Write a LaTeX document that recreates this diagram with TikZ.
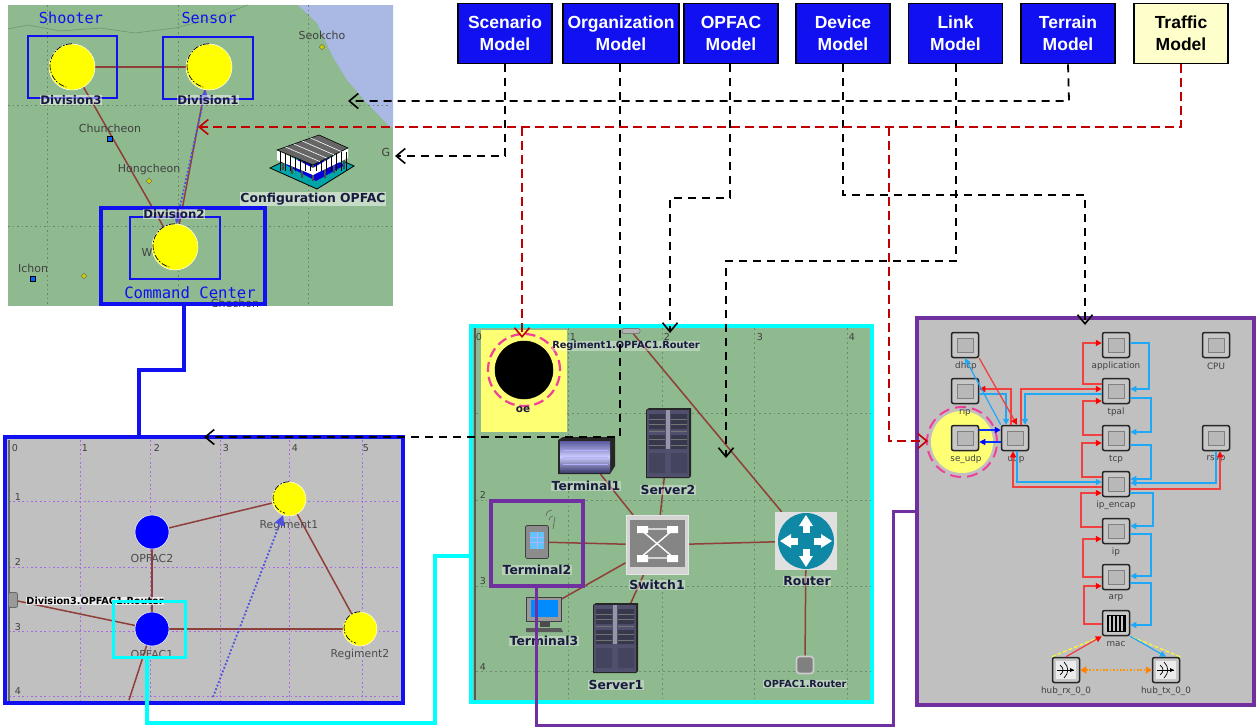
\documentclass[tikz,border=0pt]{standalone}
\usepackage{fontspec}
\setmainfont{Liberation Sans}
\newfontfamily\djf{DejaVu Sans}
\newfontfamily\djmf{DejaVu Sans Mono}
\usetikzlibrary{arrows.meta,fit,calc,shapes.geometric,shadings}
\selectcolormodel{rgb}
\pgfdeclarelayer{bg}\pgfsetlayers{bg,main}
\definecolor{mapgreen}{HTML}{8FB98F}
\definecolor{sea}{HTML}{AAB8E4}
\definecolor{linkbrown}{HTML}{8E3F3A}
\definecolor{panelgray}{HTML}{C0C0C0}
\definecolor{pblue}{HTML}{1010F0}
\definecolor{pviolet}{HTML}{7030A0}
\definecolor{dred}{HTML}{C00000}
\definecolor{tri}{HTML}{5050E0}
\definecolor{ared}{HTML}{F04040}
\definecolor{ablue}{HTML}{20A8F8}
\definecolor{hotpink}{HTML}{F0409A}
\definecolor{srv}{HTML}{50506E}
\definecolor{pyel}{HTML}{FFFF00}
\definecolor{pcy}{HTML}{00FFFF}
\definecolor{rteal}{HTML}{0F88A5}
\definecolor{gridv}{HTML}{A868E8}
\definecolor{navytext}{HTML}{1A1A40}
\tikzset{
 x=1pt,y=-1pt,
 model/.style={draw=black,line width=1.7pt,fill=#1,minimum width=94pt,minimum height=60pt,inner sep=0pt,align=center,font=\fontsize{17.5}{22}\selectfont\bfseries},
 dsh/.style={draw=black,line width=1.8pt,dash pattern=on 8pt off 6pt,-{Straight Barb[length=9pt,width=15pt,line width=1.6pt]}},
 rdsh/.style={draw=dred,line width=1.8pt,dash pattern=on 9pt off 5pt,-{Straight Barb[length=9pt,width=15pt,line width=1.6pt]}},
 link/.style={draw=linkbrown,line width=1.5pt},
 dot/.style={draw=tri,line width=1.8pt,dash pattern=on 1.8pt off 2pt},
 net/.style={circle,inner sep=0pt,minimum size=#1,draw=white,line width=.5pt},
 hlab/.style={font=\djf\fontsize{11.8}{13}\selectfont\bfseries,inner sep=.6pt,fill=white,fill opacity=.5,text opacity=1,text=navytext},
 mlab/.style={font=\djf\fontsize{11}{12}\selectfont,inner sep=0pt,text=black!75},
 blab/.style={font=\djf\fontsize{12.4}{13}\selectfont\bfseries,inner sep=.6pt,fill=white,fill opacity=.35,text opacity=1,text=navytext},
 nlab/.style={font=\djf\fontsize{10.8}{12}\selectfont,inner sep=0pt,text=black!70},
 num/.style={font=\djf\fontsize{9.5}{10}\selectfont,inner sep=0pt,text=black!75},
 mono/.style={font=\djmf\fontsize{15.2}{16}\selectfont,inner sep=0pt,text=pblue},
 pan/.style={inner sep=0pt,line width=#1},
 thinbox/.style={draw=pblue,line width=1.4pt,inner sep=0pt},
 modl/.style={draw=black!85,line width=1.5pt,fill=black!22,rounded corners=2pt,minimum width=27pt,minimum height=25pt,inner sep=0pt},
 modt/.style={font=\djf\fontsize{8.8}{10}\selectfont,inner sep=0pt,text=black!75},
 ra/.style={draw=ared,line width=1.3pt,-{Triangle[length=6pt,width=6pt,fill=red,color=red]}},
 ba/.style={draw=ablue,line width=1.2pt,-{Triangle[length=6pt,width=6pt]}},
 nba/.style={draw=blue!70!ablue,line width=1.2pt,-{Triangle[length=6pt,width=6pt,color=blue]}},
 icon/.style={inner sep=0pt},
}
\newcommand{\ringarc}[2]{\draw[black,line width=.7pt,dash pattern=on 6pt off 1.5pt on 1.5pt off 2pt] (#1.90) arc[start angle=90,end angle=255,radius=#2pt];}
\newcommand{\mpanel}[7]{\node[pan=#6,#7,fit={(#2,#3)(#4,#5)}] (#1) {};}
\newcommand{\mmod}[5]{\node[modl] (#1) at (#2,#3) {};
 \draw[black!50,fill=black!28,line width=.8pt] ($(#1.center)+(-8,-7)$) rectangle ($(#1.center)+(8,7)$);
 \node[modt] (#1-t) at ($(#1.center)+(#5,21)$) {#4};}
\newcommand{\larc}[6]{\draw[#6] (#1.west |- 0,#3) -- (#4,#3) -- (#4,#5) -- (#2.west |- 0,#5);}
\newcommand{\rarc}[6]{\draw[#6] (#1.east |- 0,#3) -- (#4,#3) -- (#4,#5) -- (#2.east |- 0,#5);}
\newcommand{\srvdetail}[1]{\begin{scope}[shift={(#1)}]
 \fill[black!85] (-22,-33) -- (-19,-35) -- (23,-35) -- (23,33) -- (21,35) -- (-22,35) -- cycle;
 \fill[srv] (-21,-33) rectangle (21,34);
 \fill[black!30!srv] (-19,-29) rectangle (-3,-14) (3,-29) rectangle (19,-14);
 \fill[black!30!srv] (-19,-8) rectangle (-3,6) (3,-8) rectangle (19,6);
 \fill[black!15!srv] (-19,10) rectangle (-3,30) (3,10) rectangle (19,30);
 \fill[srv!60!white] (-2,-33) rectangle (2,6);
 \foreach \yy in {-24,-19,-12,-4,2}{\draw[black!55,line width=.5pt] (-19,\yy)--(-3,\yy) (3,\yy)--(19,\yy);}
\end{scope}}
\begin{document}
\begin{tikzpicture}
\useasboundingbox (0,0) rectangle (1256,728);
\begin{pgfonlayer}{bg}
\fill[white] (0,0) rectangle (1256,728);
% map panel
\mpanel{map}{8}{5}{393}{306}{0pt}{fill=mapgreen}
\fill[sea] (298,5) -- (317,23) -- (333,57) -- (347,80) -- (367,103) -- (390,127) -- (393,127) -- (393,5) -- cycle;
\draw[black!28!mapgreen,line width=.7pt,dash pattern=on 1.5pt off 3pt] (47,5)--(47,306) (178,5)--(178,306) (308,5)--(308,306) (8,105)--(390,105) (8,226)--(393,226);
\draw[black!20!mapgreen,line width=.6pt] (8,29) -- (28,25) -- (60,31) -- (100,28) -- (135,33) -- (175,28) -- (215,18) -- (248,5);
% left panel
\mpanel{leftp}{5}{437}{403}{703}{4pt}{draw=pblue,fill=panelgray}
\draw[gridv,line width=1pt,dash pattern=on 1.8pt off 2.6pt]
 (80,440)--(80,701) (150,440)--(150,701) (220,440)--(220,701) (289,440)--(289,701) (362,440)--(362,701)
 (9,501)--(400,501) (9,567)--(400,567) (9,631)--(400,631) (9,696)--(400,696);
\fill[black!60] (7.5,440) rectangle (10,701);
% middle panel
\mpanel{midp}{471}{326}{872}{702}{3.5pt}{draw=pcy,fill=mapgreen}
\draw[black!25!mapgreen,line width=.7pt,dash pattern=on 1.8pt off 3pt]
 (568,328)--(568,700) (662,328)--(662,700) (754,328)--(754,700) (847,328)--(847,700)
 (476,413)--(870,413) (476,500)--(870,500) (476,586)--(870,586) (476,671)--(870,671);
\fill[black!65] (474,328) rectangle (475.5,700);
\fill[pyel!55!white] (481,330) rectangle (567,432);
% right panel
\mpanel{rightp}{917}{318}{1254}{705}{4.5pt}{draw=pviolet,fill=panelgray}
\end{pgfonlayer}

% ---- map contents (clipped to the map)
\node[mlab] (seokcho) at (322,35) {Seokcho};
\node[mlab] (chuncheon) at (110,128) {Chuncheon};
\node[mlab] (hongcheon) at (149,169) {Hongcheon};
\node[mlab] (ichon) at (33,268) {Ichon};
\node[mlab] (wlab) at (147,252) {W};
\node[mlab] (glab) at (386,152) {G};
\begin{scope}
\clip (8,5) rectangle (393,306);
\node[mlab] (chechon) at (235,303) {Chechon};
\end{scope}
\node[diamond,fill=pyel!80!black,draw=black!60,inner sep=0pt,minimum size=6pt,line width=.4pt] (dseok) at (322,47) {};
\node[diamond,fill=pyel!80!black,draw=black!60,inner sep=0pt,minimum size=6pt,line width=.4pt] (dhong) at (149,181) {};
\node[diamond,fill=pyel!80!black,draw=black!60,inner sep=0pt,minimum size=6pt,line width=.4pt] (dwest) at (84,276) {};
\node[rectangle,fill=blue!60!pcy,draw=black,inner sep=0pt,minimum size=5pt,line width=1pt] (schun) at (110,139) {};
\node[rectangle,fill=blue!60!pcy,draw=black,inner sep=0pt,minimum size=5pt,line width=1pt] (sich) at (33,279) {};

\node[net=46pt,fill=pyel] (div3) at (72,67) {}; \ringarc{div3}{22}
\node[net=46pt,fill=pyel] (div1) at (209,67) {}; \ringarc{div1}{22}
\node[net=46pt,fill=pyel] (div2) at (175,247) {}; \ringarc{div2}{22}
\begin{pgfonlayer}{bg}
\draw[link] (div3) -- (div1);
\draw[link] (div3) -- (div2);
\draw[link] (div1) -- (div2);
\end{pgfonlayer}
\draw[dot,{Triangle[length=11pt,width=10pt,color=tri]}-{Triangle[length=11pt,width=10pt,color=tri]}] (div2.87) -- (div1.262);
\node[thinbox,fit={(28,36)(117,98)}] (sh) {};
\node[thinbox,fit={(163,37)(253,99)}] (se) {};
\node[thinbox,fit={(130,217)(220,279)}] (cc) {};
\node[draw=pblue,line width=3.4pt,inner sep=0pt,fit={(101,208)(265,304)}] (cmd) {};
\node[mono] (tsh) at (71,18) {Shooter};
\node[mono] (tse) at (209,18) {Sensor};
\node[mono,font=\djmf\fontsize{15.6}{16}\selectfont] (tcc) at (190,293) {Command Center};
\node[hlab] (ldiv3) at (71,100) {Division3};
\node[hlab] (ldiv1) at (208,100) {Division1};
\node[hlab] (ldiv2) at (174,214) {Division2};
\node[hlab,font=\djf\fontsize{12.4}{13}\selectfont\bfseries] (lcfg) at (313,199) {Configuration OPFAC};
% building icon
\node[icon,minimum width=84pt,minimum height=54pt] (bldg) at (312,162) {};
\draw[black,fill=teal!70!pcy,line width=.8pt] (270,168) -- (313,147) -- (354,166) -- (317,189) -- cycle;
\fill[blue!85!black] (286,165) -- (315,152) -- (345,165) -- (316,181) -- cycle;
\foreach \xx/\yy in {283/170,292/174,302/178,313/181,325/178,334/173,344/169}{\draw[black!70,line width=2pt] (\xx,157) -- (\xx,\yy);}
\fill[white] (277,150) -- (313,168) -- (348,148) -- (348,158) -- (313,175) -- (277,160) -- cycle;
\foreach \xx in {280,285,290,295,300,305,310,316,321,326,331,336,341,346}{\draw[black,line width=.9pt] (\xx,152) -- (\xx,171);}
\draw[black,fill=black!60,line width=.6pt] (277,150) -- (319,135) -- (348,148) -- (313,165) -- cycle;
\foreach \pp in {.2,.4,.6,.8}{\draw[white,line width=.6pt] ($(277,150)!\pp!(319,135)$) -- ($(313,165)!\pp!(348,148)$);}

% ---- left panel contents
\foreach \xx/\tt in {15/0,85/1,157/2,226/3,295/4,366/5}{\node[num] (lc\tt) at (\xx,448) {\tt};}
\foreach \yy/\tt in {497/1,562/2,627/3,691/4}{\node[num] (lr\tt) at (18,\yy) {\tt};}
\node[net=34pt,fill=pyel] (reg1) at (289,499) {}; \ringarc{reg1}{16}
\node[net=34pt,fill=pyel] (reg2) at (360,629) {}; \ringarc{reg2}{16}
\node[net=34pt,fill=blue] (op2) at (152,532) {};
\node[net=34pt,fill=blue] (op1) at (152,629) {};
\node[rectangle,draw=black!60,fill=black!40,rounded corners=2pt,minimum width=9pt,minimum height=15pt,inner sep=0pt,line width=.8pt] (divr) at (13,600) {};
\coordinate (o1free) at (129,700);
\coordinate (dotfree) at (213,697);
\begin{pgfonlayer}{bg}
\draw[link] (reg1) -- (op2);
\draw[link] (reg1) -- (reg2);
\draw[link] (op2) -- (op1);
\draw[link] (op1) -- (reg2);
\draw[link] (op1) -- (divr);
\draw[link] (op1) -- (o1free);
\end{pgfonlayer}
\node[nlab] (lreg1) at (289,526) {Regiment1};
\node[nlab] (lreg2) at (360,655) {Regiment2};
\node[nlab,font=\djf\fontsize{11}{12}\selectfont] (lop2) at (152,558) {OPFAC2};
\node[nlab,font=\djf\fontsize{11}{12}\selectfont] (lop1) at (152,654) {OPFAC1};
\draw[dot,-{Triangle[length=10pt,width=10pt,color=tri]}] (dotfree) -- (reg1.250);
\node[hlab,font=\djf\fontsize{9.7}{11}\selectfont\bfseries,fill opacity=.7,text=black] (ldivr) at (95,601) {Division3.OPFAC1.Router};
\node[draw=pcy,line width=3pt,inner sep=0pt,fit={(113,601)(185,657)}] (cybox) {};

% ---- middle panel contents
\node[net=58pt,fill=black,draw=black] (oe) at (524,370) {};
\draw[hotpink,line width=2.2pt,dash pattern=on 10pt off 5pt] (524,370) circle[radius=36pt];
\node[hlab,fill opacity=0,font=\djf\fontsize{10.5}{12}\selectfont\bfseries] (loe) at (523,410) {oe};
\foreach \xx/\tt in {573/1,667/2,760/3,852/4}{\node[num] (mc\tt) at (\xx,337) {\tt};}
\node[num] (mc0) at (479,337) {0};
\foreach \yy/\tt in {495/2,581/3,667/4}{\node[num] (mr\tt) at (483,\yy) {\tt};}

\node[icon,minimum width=44pt,minimum height=68pt] (server2) at (668,443) {};
\srvdetail{668,443}
\node[icon,minimum width=44pt,minimum height=68pt] (server1) at (615,638) {};
\srvdetail{615,638}
% Terminal 1
\node[icon,minimum width=56pt,minimum height=36pt] (term1) at (586,456) {};
\fill[black!85] (558,440) -- (563,437) -- (615,437) -- (615,466) -- (610,474) -- (558,474) -- cycle;
\shade[top color=black!10!blue!30!gray,bottom color=black!60!blue!50!gray,middle color=blue!20!white] (560,441) rectangle (610,472);
\foreach \yy in {450,457,464}{\draw[white!70!blue,line width=.5pt] (563,\yy) -- (608,\yy);}
% Switch
\node[rectangle,fill=black!17,draw=black!10,line width=1pt,minimum width=62pt,minimum height=59pt,inner sep=0pt] (switch) at (657,545) {};
\fill[black!48] (630,520) rectangle (685,567);
\draw[white,line width=1.4pt] (640,529) -- (674,558) (674,529) -- (640,558) (640,529) -- (674,529) (640,558) -- (674,558);
\fill[white] (637,526) rectangle (648,533) (667,526) rectangle (678,533) (637,555) rectangle (648,562) (667,555) rectangle (678,562);
% Router
\node[rectangle,fill=black!12,minimum width=62pt,minimum height=58pt,inner sep=0pt] (router) at (806,541) {};
\fill[rteal] (806,541) circle[radius=28pt];
\foreach \aa in {0,90,180,270}{\begin{scope}[shift={(806,541)},rotate=\aa]
 \fill[white] (8,-3.5) rectangle (15,3.5);
 \fill[white] (15,-7) -- (26,0) -- (15,7) -- cycle;
\end{scope}}
% PDA
\node[rectangle,rounded corners=2pt,fill=black!45,draw=black!75,line width=.8pt,minimum width=23pt,minimum height=33pt,inner sep=0pt] (term2) at (537,542) {};
\fill[ablue!70!white] (530,532) rectangle (544,549);
\draw[white!70!blue,line width=.4pt] (530,537)--(544,537) (530,542)--(544,542) (537,532)--(537,549);
\draw[black!60,line width=.7pt] (546,516) arc[start angle=180,end angle=90,radius=6pt] (549,520) arc[start angle=180,end angle=90,radius=4pt] (555,517) -- (553,529);
% Terminal 3
\node[rectangle,fill=black!40,draw=black!75,line width=.8pt,minimum width=35pt,minimum height=24pt,inner sep=0pt] (term3) at (544,609) {};
\fill[blue!45!pcy] (531,600) rectangle (558,617);
\fill[black!70] (540,621) rectangle (550,627);
\fill[black!65] (526,628) -- (561,628) -- (563,632) -- (526,632) -- cycle;
% OPFAC1 router bottom, and router at top
\node[rectangle,rounded corners=3pt,fill=black!50,draw=black!20,line width=1.6pt,minimum size=17pt,inner sep=0pt] (orbot) at (805,665) {};
\node[rectangle,rounded corners=2pt,fill=black!30,draw=black!60,line width=.5pt,minimum width=18pt,minimum height=5pt,inner sep=0pt] (ortop) at (631,331) {};
\begin{pgfonlayer}{bg}
\draw[link] (ortop) -- (router);
\draw[link] (term1) -- (switch);
\draw[link] (server2) -- (switch);
\draw[link] (term2) -- (switch);
\draw[link] (term3) -- (switch);
\draw[link] (server1) -- (switch);
\draw[link] (switch) -- (router);
\draw[link] (router) -- (orbot);
\end{pgfonlayer}
\node[blab] (lt1) at (586,486) {Terminal1};
\node[blab] (ls2) at (668,490) {Server2};
\node[blab] (lsw) at (657,585) {Switch1};
\node[blab] (lrt) at (807,581) {Router};
\node[blab] (lt2) at (537,570) {Terminal2};
\node[blab] (lt3) at (544,641) {Terminal3};
\node[blab] (ls1) at (616,685) {Server1};
\node[blab,font=\djf\fontsize{9.8}{11}\selectfont\bfseries] (lortop) at (626,346) {Regiment1.OPFAC1.Router};
\node[blab,font=\djf\fontsize{9.7}{11}\selectfont\bfseries] (lorbot) at (805,684) {OPFAC1.Router};
\node[draw=pviolet,line width=3.2pt,inner sep=0pt,fit={(491,501)(583,586)}] (pubox) {};

% ---- right panel contents
\fill[pyel!55!white] (962,442) circle[radius=31pt];
\draw[hotpink,line width=2pt,dash pattern=on 11pt off 6pt] (962,442) circle[radius=35pt];
\mmod{dhcp}{965}{345}{dhcp}{1}
\mmod{rip}{965}{391}{rip}{0}
\mmod{seudp}{965}{438}{se\_udp}{1}
\mmod{udp}{1015}{438}{udp}{1}
\mmod{app}{1116}{345}{application}{0}
\mmod{tpal}{1116}{391}{tpal}{0}
\mmod{tcp}{1116}{438}{tcp}{0}
\mmod{ipenc}{1116}{484}{ip\_encap}{0}
\mmod{ip}{1116}{531}{ip}{0}
\mmod{arp}{1116}{577}{arp}{0}
\mmod{mac}{1116}{623}{mac}{0}
\mmod{cpu}{1216}{345}{CPU}{0}
\mmod{rsvp}{1216}{438}{rsvp}{0}
\mmod{hubrx}{1066}{670}{hub\_rx\_0\_0}{0}
\mmod{hubtx}{1166}{670}{hub\_tx\_0\_0}{0}
\fill[black!22] ($(mac.center)+(-10,-9)$) rectangle ($(mac.center)+(10,9)$);
\foreach \dd in {-8,-4,0,4,8}{\draw[black,line width=1.4pt] ($(mac.center)+(\dd,-8)$) -- ($(mac.center)+(\dd,8)$);}
\draw[black,line width=.8pt] ($(mac.center)+(-9,-8)$) rectangle ($(mac.center)+(9,8)$);
\foreach \nn in {hubrx,hubtx}{
 \fill[white!85!gray] ($(\nn.center)+(-10,-9)$) rectangle ($(\nn.center)+(10,9)$);
 \draw[black,line width=.7pt] ($(\nn.center)+(-9,0)$) -- ($(\nn.center)+(8,0)$);
 \draw[black,line width=.7pt] ($(\nn.center)+(-2,-8)$) .. controls ($(\nn.center)+(3,-3)$) and ($(\nn.center)+(3,3)$) .. ($(\nn.center)+(-2,8)$);
 \draw[black,line width=.7pt] ($(\nn.center)+(-6,-5)$) .. controls ($(\nn.center)+(-2,-2)$) and ($(\nn.center)+(-2,2)$) .. ($(\nn.center)+(-6,5)$);
 \fill[black] ($(\nn.center)+(4,-2)$) -- ($(\nn.center)+(8,0)$) -- ($(\nn.center)+(4,2)$) -- cycle;
}
% module links
\larc{tpal}{app}{384}{1083}{343}{ra}
\larc{tcp}{tpal}{435}{1083}{401}{ra}
\larc{ipenc}{tcp}{477}{1082}{443}{ra}
\larc{ip}{ipenc}{527}{1081}{493}{ra}
\larc{arp}{ip}{577}{1083}{539}{ra}
\larc{mac}{arp}{624}{1084}{586}{ra}
\rarc{app}{tpal}{343}{1149}{389}{ba}
\rarc{tpal}{tcp}{398}{1151}{432}{ba}
\rarc{tcp}{ipenc}{445}{1151}{479}{ba}
\rarc{ipenc}{ip}{493}{1153}{526}{ba}
\rarc{ip}{arp}{534}{1151}{576}{ba}
\rarc{arp}{mac}{583}{1151}{625}{ba}
\draw[ra] (udp.north -| 1011,0) -- (1011,389) -- (rip.east |- 0,389);
\draw[ba] (rip.east |- 0,394) -- (1006,394) -- (udp.north -| 1006,0);
\draw[ra] (udp.north -| 1021,0) -- (1021,389) -- (tpal.west |- 0,389);
\draw[ba] (tpal.west |- 0,394) -- (1025,394) -- (udp.north -| 1025,0);
\draw[ra] (dhcp.south east) -- (udp.north -| 1017,0);
\draw[ba] (udp.north west) -- (dhcp.south);
\draw[nba] (seudp.east |- 0,430) -- (udp.west |- 0,430);
\draw[nba] (udp.west |- 0,442) -- (seudp.east |- 0,442);
\draw[ra] (ipenc.west |- 0,487) -- (1013,487) -- (udp.south -| 1013,0);
\draw[ba] (udp.south -| 1017,0) -- (1017,482) -- (ipenc.west |- 0,482);
\draw[ra] (ipenc.east |- 0,489) -- (1220,489) -- (rsvp.south -| 1220,0);
\draw[ba] (rsvp.south -| 1216,0) -- (1216,483) -- (ipenc.east |- 0,483);
\draw[pyel!85!white,line width=1.1pt,dash pattern=on 4pt off 2pt] (hubrx.north west) -- (mac.south west);
\draw[ra] (hubrx.north) -- (mac.south west);
\draw[pyel!85!white,line width=1.1pt,dash pattern=on 4pt off 2pt] (hubtx.north east) -- (mac.south east);
\draw[ba] (mac.south east) -- (hubtx.north);
\draw[draw=orange!85!yellow,line width=1.1pt,dash pattern=on 1.6pt off 1.8pt,{Triangle[length=6pt,width=7pt,color=orange]}-{Triangle[length=6pt,width=7pt,color=orange]}] (hubrx.east) -- (hubtx.west);

% ---- model boxes
\node[model=pblue,text=white] (mscen) at (505,33.5) {Scenario\\Model};
\node[model=pblue,text=white,minimum width=116pt] (morg) at (621,33.5) {Organization\\Model};
\node[model=pblue,text=white] (mopf) at (731,33.5) {OPFAC\\Model};
\node[model=pblue,text=white] (mdev) at (843,33.5) {Device\\Model};
\node[model=pblue,text=white] (mlink) at (955.5,33.5) {Link\\Model};
\node[model=pblue,text=white] (mter) at (1068,33.5) {Terrain\\Model};
\node[model={pyel!20!white},text=black] (mtra) at (1181,33.5) {Traffic\\Model};

% ---- dashed connectors
\coordinate (tter) at (348,101);
\coordinate (tscen) at (395,156);
\coordinate (ttra) at (198,127);
\coordinate (toe) at (522,338);
\coordinate (bred) at (522,127);
\coordinate (bred2) at (889,127);
\coordinate (tudp) at (928,441);
\coordinate (torg) at (204,437);
\coordinate (topf) at (670,333);
\coordinate (tlink) at (726,458);
\coordinate (tdev) at (1085,325);
\draw[dsh] (mter.south) -- (1069,101) -- (tter);
\draw[dsh] (mscen.south) -- (505,156) -- (tscen);
\draw[dsh] (morg.south -| 620,0) -- (620,437) -- (torg);
\draw[dsh] (mopf.south -| 730,0) -- (730,198) -- (670,198) -- (topf);
\draw[dsh] (mdev.south) -- (843,195) -- (1085,195) -- (tdev);
\draw[dsh] (mlink.south -| 956,0) -- (956,261) -- (726,261) -- (tlink);
\draw[rdsh] (mtra.south) -- (1181,127) -- (ttra);
\draw[rdsh] (bred) -- (toe);
\draw[rdsh] (bred2) -- (889,441) -- (tudp);

% ---- panel links
\draw[draw=pblue,line width=3.4pt] (cmd.south -| 184,0) -- (184,370) -- (139,370) -- (leftp.north -| 139,0);
\draw[draw=pcy,line width=3.2pt] (cybox.south -| 147,0) -- (147,723) -- (435,723) -- (435,556) -- (midp.west |- 0,556);
\draw[draw=pviolet,line width=3pt] (pubox.south -| 536,0) -- (536,725) -- (893,725) -- (893,511) -- (rightp.west |- 0,511);
\end{tikzpicture}
\end{document}
